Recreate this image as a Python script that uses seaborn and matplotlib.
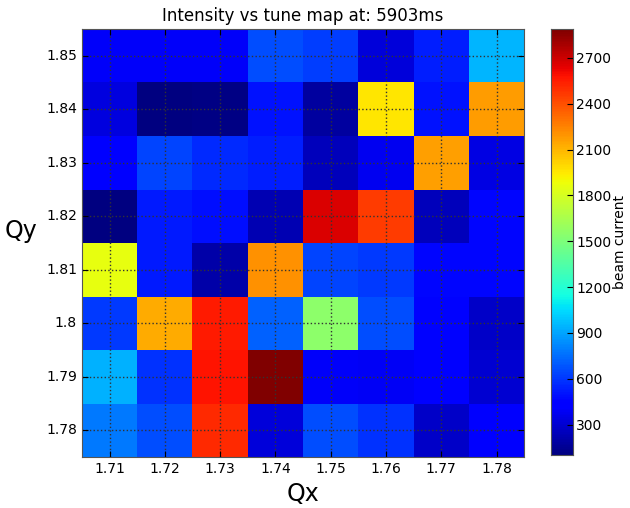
import numpy as np
import pandas as pd
import matplotlib
matplotlib.use('Agg')
import matplotlib.pyplot as plt
import seaborn as sns

# tune grid
qx_labels = ['1.71', '1.72', '1.73', '1.74', '1.75', '1.76', '1.77', '1.78']
qy_labels = ['1.85', '1.84', '1.83', '1.82', '1.81', '1.8', '1.79', '1.78']  # top -> bottom

# beam current per cell, one row per Qy (top -> bottom)
row_185 = [400, 400, 400, 660, 620, 320, 530, 940]
row_184 = [330, 100, 120, 500, 180, 1960, 500, 2180]
row_183 = [420, 640, 560, 530, 250, 380, 2160, 340]
row_182 = [110, 520, 490, 220, 2670, 2460, 250, 460]
row_181 = [1860, 520, 200, 2210, 640, 610, 460, 460]
row_180 = [610, 2130, 2560, 720, 1550, 660, 450, 280]
row_179 = [930, 580, 2580, 2890, 400, 390, 440, 300]
row_178 = [780, 660, 2510, 320, 660, 580, 280, 440]

cbar_ticks = [300, 600, 900, 1200, 1500, 1800, 2100, 2400, 2700]

df = pd.DataFrame([row_185, row_184, row_183, row_182, row_181, row_180, row_179, row_178],
                  index=qy_labels, columns=qx_labels)

fig = plt.figure(figsize=(6.3, 5.08), dpi=100)
ax = fig.add_axes([0.130, 0.100, 0.702, 0.843])
cax = fig.add_axes([0.874, 0.104, 0.036, 0.839])

sns.heatmap(df, cmap='jet', ax=ax, cbar_ax=cax,
            cbar_kws={'ticks': cbar_ticks})

ax.set_title('Intensity vs tune map at: 5903ms', fontsize=12)
ax.set_xlabel('Qx', fontsize=17)
ax.set_ylabel('Qy', fontsize=17, rotation=0, labelpad=18)
ax.set_xticklabels(qx_labels, rotation=0, fontsize=10)
ax.set_yticklabels(qy_labels, rotation=0, fontsize=10)
ax.tick_params(direction='in', top=True, right=True, length=4, color='black')
ax.grid(True, linestyle=':', color='#333333', linewidth=1)
for sp in ax.spines.values():
    sp.set_visible(True)
    sp.set_color('#555555')

cax.set_ylabel('beam current', fontsize=10, labelpad=1)
cax.tick_params(labelsize=10, direction='in', length=4, pad=2)
for sp in cax.spines.values():
    sp.set_visible(True)
    sp.set_color('#555555')
cax.yaxis.set_ticks_position('right')

fig.savefig('out.png', dpi=100)
